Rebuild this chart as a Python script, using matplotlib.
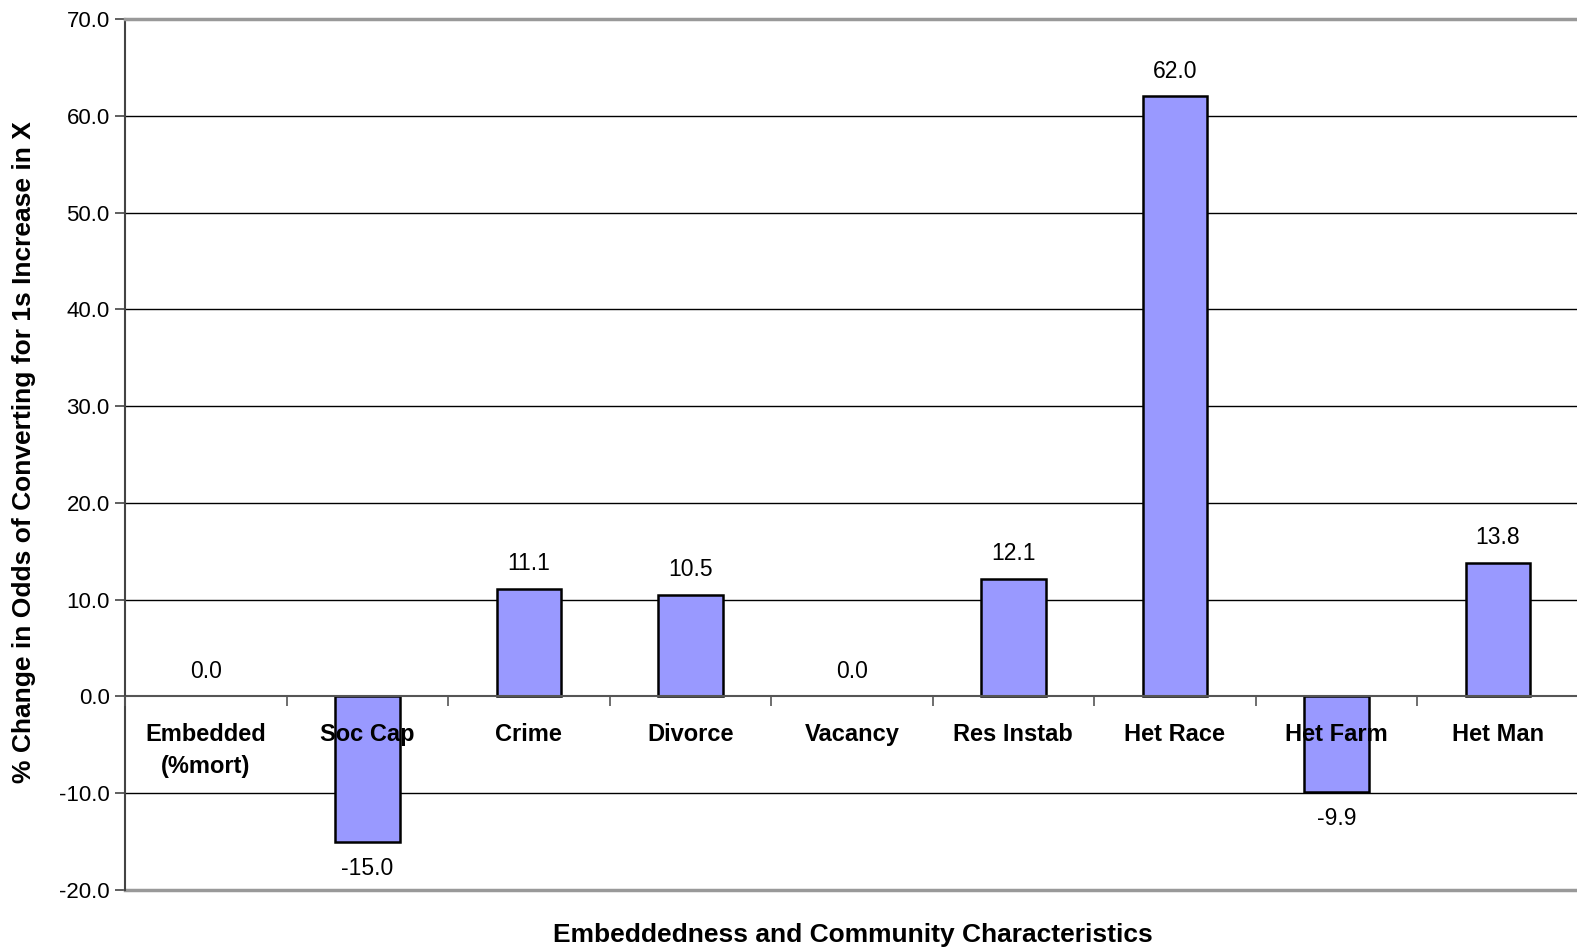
import matplotlib
matplotlib.use('Agg')
import matplotlib.pyplot as plt
import numpy as np

plt.rcParams['font.family'] = ['Liberation Sans', 'DejaVu Sans']

# categories and percent change values
categories = ['Embedded\n(%mort)', 'Soc Cap', 'Crime', 'Divorce', 'Vacancy',
              'Res Instab', 'Het Race', 'Het Farm', 'Het Man']
values = [0.0, -15.0, 11.1, 10.5, 0.0, 12.1, 62.0, -9.9, 13.8]
yticks = np.arange(-20, 71, 10)

fig = plt.figure(figsize=(15.77, 9.5), dpi=100, facecolor='w')
ax = fig.add_axes([0.0793, 0.0632, 0.9217, 0.9168])

x = np.arange(len(categories))
edge_w = [0 if v == 0 else 1.8 for v in values]
ax.bar(x, values, width=0.4, color='#9999ff', edgecolor='black', linewidth=edge_w, zorder=1.2)

# value labels above / below each bar
for xi, v in zip(x, values):
    if v >= 0:
        ax.annotate('%.1f' % v, (xi, v), xytext=(0, 10), textcoords='offset points',
                    ha='center', va='bottom', fontsize=16.5)
    else:
        ax.annotate('%.1f' % v, (xi, v), xytext=(0, -11), textcoords='offset points',
                    ha='center', va='top', fontsize=16.5)

ax.set_xlim(-0.5, len(categories) - 0.5)
ax.set_ylim(-20, 70)
ax.set_yticks(yticks)
ax.set_yticklabels(['%.1f' % t for t in yticks], fontsize=16)
for t in yticks[1:-1]:
    if t != 0:
        ax.axhline(t, color='black', linewidth=1.0, zorder=1)

# category axis sits on the zero line
ax.spines['bottom'].set_position(('data', 0))
ax.spines['bottom'].set_color('#555555')
ax.spines['bottom'].set_linewidth(1.5)
ax.spines['bottom'].set_zorder(2)
ax.spines['right'].set_visible(False)
ax.spines['top'].set_color('#999999')
ax.spines['top'].set_linewidth(2.5)
ax.spines['left'].set_color('#444444')
ax.spines['left'].set_linewidth(1.5)
ax.axhline(-20, color='#999999', linewidth=2.5, clip_on=False, zorder=2)

ax.set_xticks(x)
ax.set_xticklabels(categories, fontsize=17, fontweight='bold', linespacing=1.5)
ax.set_xticks(np.arange(-0.5, len(categories), 1.0), minor=True)
ax.tick_params(axis='x', which='major', length=0, pad=19)
ax.tick_params(axis='x', which='minor', length=7, width=1.2, color='#555555', direction='out')
ax.tick_params(axis='y', length=7, width=1.2, color='#444444', direction='out', pad=4)
ax.xaxis.set_zorder(4)
for lbl in ax.get_xticklabels():
    lbl.set_verticalalignment('top')

fig.text(0.541, 0.016, 'Embeddedness and Community Characteristics',
         ha='center', va='center', fontsize=19, fontweight='bold')
fig.text(0.015, 0.524, '% Change in Odds of Converting for 1s Increase in X',
         ha='center', va='center', rotation=90, fontsize=19, fontweight='bold')

fig.savefig('out.png', dpi=100, facecolor='w')
